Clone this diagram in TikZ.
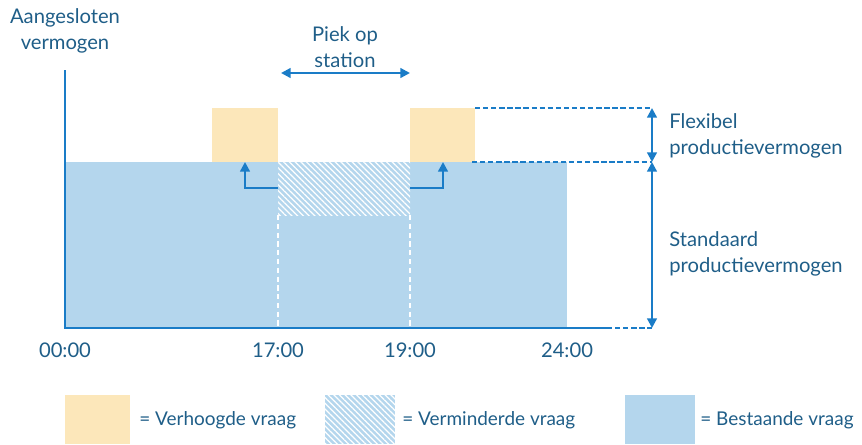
\documentclass[tikz,border=0pt]{standalone}
\usepackage{fontspec}
\setmainfont{Lato}
\usetikzlibrary{arrows.meta,patterns.meta}
\definecolor{lineblue}{HTML}{1A7CC7}
\definecolor{textblue}{HTML}{1F5E88}
\definecolor{basefill}{HTML}{B4D6ED}
\definecolor{extrafill}{HTML}{FCE7BA}
\tikzset{
  axisline/.style={lineblue,line width=1.5pt},
  guideline/.style={lineblue,line width=1.3pt,dash pattern=on 3pt off 1.6pt},
  dimarrow/.style={lineblue,line width=1.3pt,{Triangle[length=5.5pt,width=5.5pt]}-{Triangle[length=5.5pt,width=5.5pt]}},
  shiftarrow/.style={lineblue,line width=1.5pt,-{Triangle[length=5.5pt,width=5.5pt]}},
  lbl/.style={text=textblue,font=\fontsize{11.5}{15}\selectfont,align=center,inner sep=0pt},
  legendlbl/.style={lbl,anchor=west,font=\fontsize{10.8}{13}\selectfont},
  hatch/.style={pattern={Lines[angle=-45,distance=2.3pt,line width=0.7pt]},pattern color=white}
}
\begin{document}
\begin{tikzpicture}[x=0.02cm,y=-0.02cm]
\useasboundingbox (0,0) rectangle (862,444);
% bestaande vraag
\fill[basefill] (65,162) rectangle (567,328);
\fill[hatch] (278,162) rectangle (410,215);
\draw[white,line width=1.2pt,dash pattern=on 3pt off 2pt] (278,215) -- (278,328);
\draw[white,line width=1.2pt,dash pattern=on 3pt off 2pt] (410,215) -- (410,328);
% verhoogde vraag
\fill[extrafill] (212,108) rectangle (278,162);
\fill[extrafill] (410,108) rectangle (475,162);
% assen
\draw[axisline] (65,70) -- (65,328) -- (607,328);
\draw[guideline] (607,328) -- (652,328);
\draw[guideline] (475,108) -- (652,108);
\draw[guideline] (472,162) -- (652,162);
\coordinate (flextop) at (652,108);
\coordinate (flexbot) at (652,162);
\coordinate (stdbot) at (652,328);
\draw[dimarrow] (flextop) -- (flexbot);
\draw[dimarrow] (flexbot) -- (stdbot);
% piek
\coordinate (piekstart) at (281,73);
\coordinate (piekend) at (410,73);
\draw[dimarrow] (piekstart) -- (piekend);
\coordinate (shiftl) at (278,188);
\coordinate (shiftlend) at (245,162);
\coordinate (shiftr) at (410,188);
\coordinate (shiftrend) at (443,162);
\draw[shiftarrow] (shiftl) -| (shiftlend);
\draw[shiftarrow] (shiftr) -| (shiftrend);
% teksten
\node[lbl] (ytitle) at (65,31) {Aangesloten\\vermogen};
\node[lbl] (piek) at (345,47) {Piek op\\station};
\node[lbl] (t0) at (65,350) {00:00};
\node[lbl] (t17) at (278,350) {17:00};
\node[lbl] (t19) at (410,350) {19:00};
\node[lbl] (t24) at (567,350) {24:00};
\node[lbl,anchor=west,align=left] (flex) at (669,136) {Flexibel\\productievermogen};
\node[lbl,anchor=west,align=left] (std) at (669,254) {Standaard\\productievermogen};
% legenda
\fill[extrafill] (65,395) rectangle (130,444);
\node[legendlbl] (lgup) at (139,420) {= Verhoogde vraag};
\fill[basefill] (325,395) rectangle (395,444);
\fill[hatch] (325,395) rectangle (395,444);
\node[legendlbl] (lgdown) at (402,420) {= Verminderde vraag};
\fill[basefill] (625,395) rectangle (695,444);
\node[legendlbl] (lgbase) at (700,420) {= Bestaande vraag};
\end{tikzpicture}
\end{document}
